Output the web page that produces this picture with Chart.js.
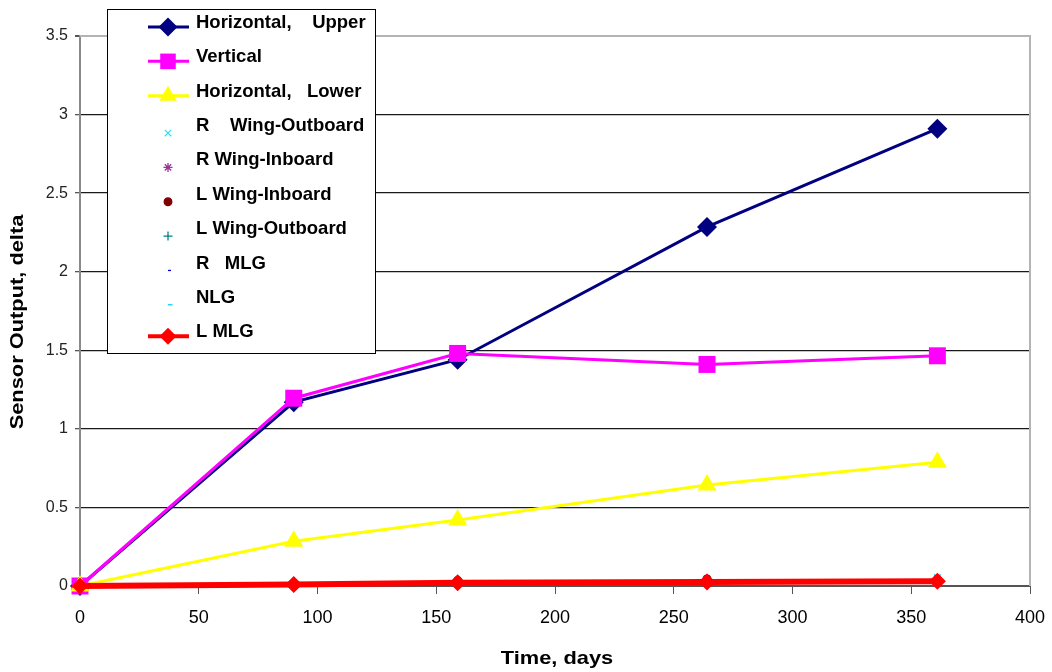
<!DOCTYPE html>
<html>
<head>
<meta charset="utf-8">
<script src="https://cdn.jsdelivr.net/npm/chart.js@4/dist/chart.umd.min.js"></script>
<style>
  html, body { margin: 0; padding: 0; background: #fff; }
  #wrap { width: 1052px; height: 672px; }
</style>
</head>
<body>
<div id="wrap"><canvas id="c" width="1052" height="672"></canvas></div>
<script>
// Sampling times (days) and sensor output deltas per location
const days = [0, 90, 159, 264, 361];
const horizontalUpper = [0, 1.17, 1.44, 2.285, 2.91];
const vertical = [0, 1.195, 1.48, 1.41, 1.465];
const horizontalLower = [0, 0.285, 0.42, 0.643, 0.787];
const rWingOutboard = [0, 0.01, 0.03, 0.04, 0.055];
const rWingInboard = [0, 0.01, 0.03, 0.045, 0.045];
const lWingInboard = [0, 0.01, 0.035, 0.045, 0.04];
const lWingOutboard = [0, 0.01, 0.025, 0.04, 0.04];
const rMLG = [0, 0.01, 0.02, 0.03, 0.04];
const nlg = [0, 0.01, 0.02, 0.03, 0.035];
const lMLG = [0, 0.01, 0.02, 0.025, 0.03];

const seriesNames = [
  'Horizontal,    Upper', 'Vertical', 'Horizontal,   Lower', 'R    Wing-Outboard',
  'R Wing-Inboard', 'L Wing-Inboard', 'L Wing-Outboard', 'R   MLG', 'NLG', 'L MLG'
];
const yTicks = [0, 0.5, 1, 1.5, 2, 2.5, 3, 3.5];
const xTicks = [0, 50, 100, 150, 200, 250, 300, 350, 400];
const xTitle = 'Time, days';
const yTitle = 'Sensor Output, delta';

const pts = vals => days.map((d, i) => ({ x: d, y: vals[i] }));

const styles = [
  { values: horizontalUpper, color: '#000080', line: 3, pointStyle: 'rectRot', radius: 10, legendRadius: 9.5 },
  { values: vertical, color: '#FF00FF', line: 3, pointStyle: 'rect', radius: 12, legendRadius: 11 },
  { values: horizontalLower, color: '#FFFF00', line: 3, pointStyle: 'triangle', radius: 11, legendRadius: 10 },
  { values: rWingOutboard, color: '#33E0F0', line: 0, pointStyle: 'crossRot', radius: 4.5, legendRadius: 4.5 },
  { values: rWingInboard, color: '#993399', line: 0, pointStyle: 'star', radius: 4.5, legendRadius: 4.5 },
  { values: lWingInboard, color: '#800000', line: 0, pointStyle: 'circle', radius: 3.8, legendRadius: 3.8 },
  { values: lWingOutboard, color: '#008080', line: 0, pointStyle: 'cross', radius: 4.5, legendRadius: 4.5 },
  { values: rMLG, color: '#0000CC', line: 0, pointStyle: 'dash', radius: 3, legendRadius: 3 },
  { values: nlg, color: '#00CCFF', line: 0, pointStyle: 'dash', radius: 4.5, legendRadius: 4.5 },
  { values: lMLG, color: '#FF0000', line: 6, pointStyle: 'rectRot', radius: 8.5, legendRadius: 8.5, legendLine: 4 }
];

const datasets = styles.map((s, i) => ({
  label: seriesNames[i],
  data: pts(s.values),
  borderColor: s.color,
  backgroundColor: s.color,
  borderWidth: s.line || 1,
  showLine: s.line > 0,
  pointStyle: s.pointStyle,
  pointRadius: s.radius,
  pointBorderWidth: s.line ? 0 : 1.3,
  pointBackgroundColor: s.color,
  pointBorderColor: s.color,
  tension: 0,
  clip: false,
  order: styles.length - i
}));

const FONT = '"Liberation Sans", Arial, sans-serif';

// Boxed legend in the upper-left corner, drawn from the dataset styles
const boxLegend = {
  id: 'boxLegend',
  afterDraw(chart) {
    const ctx = chart.ctx;
    const left = 107.5, top = 9.5, right = 375.5, bottom = 353.5;
    ctx.save();
    ctx.fillStyle = '#fff';
    ctx.fillRect(left, top, right - left, bottom - top);
    ctx.strokeStyle = '#000';
    ctx.lineWidth = 1;
    ctx.strokeRect(left, top, right - left, bottom - top);
    ctx.font = 'bold 18.5px ' + FONT;
    ctx.textBaseline = 'middle';
    chart.data.datasets.forEach((ds, i) => {
      const s = styles[i];
      const rowY = 23 + i * 34.35;
      const symY = rowY + (ds.showLine ? 4 : 7);
      const cx = 168;
      if (ds.showLine) {
        ctx.strokeStyle = ds.borderColor;
        ctx.lineWidth = s.legendLine || ds.borderWidth;
        ctx.beginPath();
        ctx.moveTo(148, symY);
        ctx.lineTo(189, symY);
        ctx.stroke();
      }
      ctx.fillStyle = ds.pointBackgroundColor;
      ctx.strokeStyle = ds.pointBorderColor;
      ctx.lineWidth = ds.pointBorderWidth;
      Chart.helpers.drawPoint(ctx, { pointStyle: ds.pointStyle, radius: s.legendRadius, rotation: 0, borderWidth: ds.pointBorderWidth }, cx, symY);
      ctx.fillStyle = '#000';
      ctx.fillText(ds.label, 196, rowY);
    });
    ctx.restore();
  }
};

// Light frame on the top and right sides of the plot area
const plotFrame = {
  id: 'plotFrame',
  beforeDatasetsDraw(chart) {
    const a = chart.chartArea, ctx = chart.ctx;
    ctx.save();
    ctx.strokeStyle = '#b4b4b4';
    ctx.lineWidth = 2;
    ctx.beginPath();
    ctx.moveTo(a.left, a.top);
    ctx.lineTo(a.right, a.top);
    ctx.lineTo(a.right, a.bottom);
    ctx.stroke();
    ctx.restore();
  }
};

// Axis titles, set in a slightly widened bold face
const axisTitles = {
  id: 'axisTitles',
  afterDraw(chart) {
    const a = chart.chartArea, ctx = chart.ctx;
    const stretch = 1.18;
    ctx.save();
    ctx.fillStyle = '#000';
    ctx.font = 'bold 18.5px ' + FONT;
    ctx.textAlign = 'center';
    ctx.textBaseline = 'middle';
    // x title under the tick labels
    ctx.save();
    ctx.translate((a.left + a.right) / 2 + 2, chart.height - 13);
    ctx.scale(stretch, 1);
    ctx.fillText(xTitle, 0, 0);
    ctx.restore();
    // y title along the left edge, reading upward
    ctx.save();
    ctx.translate(18, (a.top + a.bottom) / 2 + 11);
    ctx.rotate(-Math.PI / 2);
    ctx.scale(stretch, 1);
    ctx.fillText(yTitle, 0, 0);
    ctx.restore();
    ctx.restore();
  }
};

new Chart(document.getElementById('c'), {
  type: 'line',
  data: { datasets },
  plugins: [plotFrame, boxLegend, axisTitles],
  options: {
    responsive: false,
    animation: false,
    devicePixelRatio: 1,
    layout: { padding: { top: 36, right: 22, left: 0, bottom: 0 } },
    plugins: { legend: { display: false }, tooltip: { enabled: false } },
    scales: {
      x: {
        type: 'linear',
        min: 0, max: 400,
        afterBuildTicks: s => { s.ticks = xTicks.map(v => ({ value: v })); },
        afterFit: s => { s.height = 86; s.paddingLeft = 0; s.paddingRight = 0; },
        grid: { drawOnChartArea: false, drawTicks: true, tickLength: 8, color: '#555', tickColor: '#555' },
        border: { color: '#555', width: 2 },
        ticks: { color: '#000', padding: 13, maxRotation: 0, font: { family: FONT, size: 18 } },
        title: { display: false }
      },
      y: {
        min: 0, max: 3.5,
        afterBuildTicks: s => { s.ticks = yTicks.map(v => ({ value: v })); },
        afterFit: s => { s.width = 80; s.paddingTop = 0; s.paddingBottom = 0; },
        grid: {
          color: c => (c.tick && c.tick.value === 3.5) ? '#b4b4b4' : '#1a1a1a',
          tickColor: '#555',
          lineWidth: c => (c.tick && c.tick.value === 3.5) ? 2 : 1.3,
          drawTicks: true, tickLength: 5
        },
        border: { color: '#8a8a8a', width: 2 },
        ticks: { color: '#222', padding: 7, font: { family: FONT, size: 16 }, callback: v => String(v) },
        title: { display: false }
      }
    }
  }
});
</script>
</body>
</html>
